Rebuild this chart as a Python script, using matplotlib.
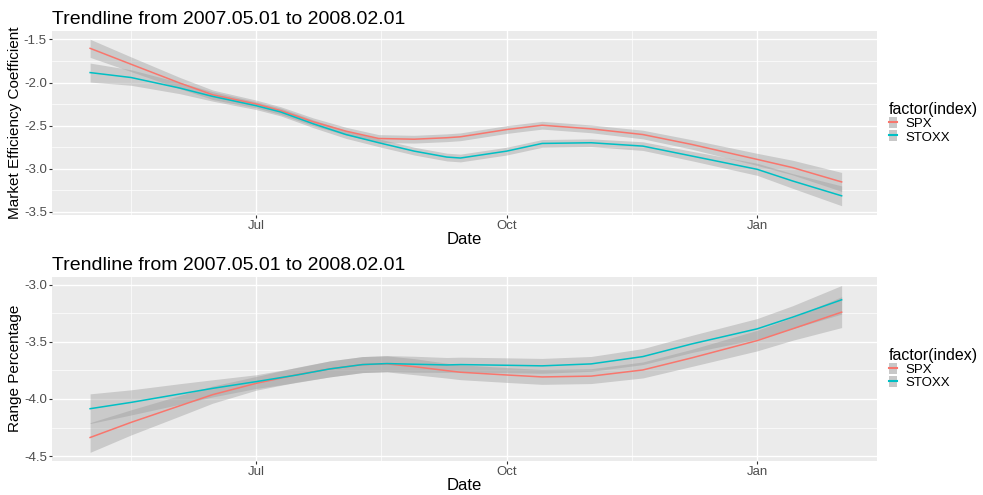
import datetime as dt
import numpy as np
import matplotlib
matplotlib.use("Agg")
import matplotlib.pyplot as plt
import matplotlib.dates as mdates
from matplotlib.lines import Line2D
from matplotlib.patches import Patch
from matplotlib.legend_handler import HandlerTuple

plt.rcParams['font.family'] = ['Liberation Sans', 'DejaVu Sans']

start = dt.date(2007, 5, 1)

mec_days = [0, 15, 33, 45, 61, 70, 82, 94, 106, 119, 131, 136, 153, 166, 184, 203, 221, 245, 258, 276]
rp_days = [0, 15, 33, 45, 61, 76, 88, 100, 109, 119, 131, 136, 153, 166, 184, 203, 221, 245, 258, 276]

# Market efficiency coefficient
mec_spx = [-1.604, -1.788, -2.007, -2.142, -2.249, -2.326, -2.456, -2.564, -2.649, -2.657,
           -2.640, -2.629, -2.545, -2.495, -2.537, -2.603, -2.718, -2.891, -2.986, -3.152]
mec_stoxx = [-1.885, -1.942, -2.065, -2.161, -2.269, -2.342, -2.479, -2.603, -2.698, -2.795,
             -2.864, -2.875, -2.795, -2.706, -2.698, -2.737, -2.852, -3.006, -3.141, -3.313]
mec_spx_se = [0.105, 0.085, 0.065, 0.055, 0.045, 0.045, 0.045, 0.045, 0.045, 0.045,
              0.045, 0.045, 0.045, 0.045, 0.045, 0.05, 0.055, 0.07, 0.085, 0.11]
mec_stoxx_se = [0.11, 0.09, 0.065, 0.055, 0.045, 0.045, 0.045, 0.045, 0.045, 0.045,
                0.045, 0.045, 0.045, 0.045, 0.045, 0.05, 0.055, 0.07, 0.085, 0.115]

# Range percentage
rp_spx = [-4.337, -4.205, -4.059, -3.962, -3.863, -3.787, -3.737, -3.699, -3.693, -3.717,
          -3.752, -3.766, -3.790, -3.807, -3.800, -3.746, -3.640, -3.489, -3.386, -3.240]
rp_stoxx = [-4.085, -4.030, -3.956, -3.907, -3.848, -3.790, -3.737, -3.699, -3.690, -3.696,
            -3.702, -3.699, -3.705, -3.710, -3.693, -3.629, -3.518, -3.386, -3.284, -3.132]
rp_spx_se = [0.13, 0.11, 0.09, 0.075, 0.06, 0.065, 0.07, 0.07, 0.07, 0.07,
             0.065, 0.065, 0.065, 0.065, 0.065, 0.07, 0.075, 0.09, 0.10, 0.135]
rp_stoxx_se = [0.13, 0.11, 0.09, 0.075, 0.06, 0.065, 0.07, 0.07, 0.07, 0.07,
               0.065, 0.065, 0.065, 0.065, 0.065, 0.07, 0.075, 0.09, 0.10, 0.125]

names = ['SPX', 'STOXX']
colors = ['#F8766D', '#00BFC4']
title = 'Trendline from 2007.05.01 to 2008.02.01'

fig = plt.figure(figsize=(9.83, 4.95), dpi=100)
ax1 = fig.add_axes([0.0529, 0.5657, 0.8393, 0.3717])
ax2 = fig.add_axes([0.0529, 0.0693, 0.8393, 0.3717])


def draw(ax, days, series, ses, ylabel, ylim, yticks, yminor):
    dates = [start + dt.timedelta(days=d) for d in days]
    ax.set_facecolor('#EBEBEB')
    for y, se, c in zip(series, ses, colors):
        y = np.array(y)
        se = np.array(se)
        ax.fill_between(dates, y - se, y + se, color='#999999', alpha=0.4, lw=0, zorder=2)
        ax.plot(dates, y, color=c, lw=1.1, zorder=3, solid_joinstyle='round')
    ax.set_xlim(dt.date(2007, 4, 17), dt.date(2008, 2, 14))
    ax.set_ylim(*ylim)
    ax.xaxis.set_major_locator(mdates.MonthLocator(bymonth=[1, 7, 10]))
    ax.xaxis.set_major_formatter(mdates.DateFormatter('%b'))
    ax.set_xticks([mdates.date2num(d) for d in [dt.date(2007, 5, 16), dt.date(2007, 8, 16),
                                                dt.date(2007, 11, 16)]], minor=True)
    ax.set_yticks(yticks)
    ax.set_yticklabels(['%.1f' % v for v in yticks])
    ax.set_yticks(yminor, minor=True)
    ax.grid(which='major', color='white', lw=1.0, zorder=0)
    ax.grid(which='minor', color='white', lw=0.5, zorder=0)
    ax.set_axisbelow(True)
    for s in ax.spines.values():
        s.set_visible(False)
    ax.tick_params(which='major', length=2.5, color='#333333', labelsize=9.5, labelcolor='#4D4D4D', pad=1.2)
    ax.tick_params(which='minor', length=0)
    ax.set_xlabel('Date', fontsize=12, labelpad=0)
    ax.set_ylabel(ylabel, fontsize=11)
    ax.yaxis.set_label_coords(-0.036, 0.5)
    ax.set_title(title, fontsize=14, loc='left', pad=5)
    handles = [(Patch(facecolor='#C8C8C8', edgecolor='none'), Line2D([], [], color=c, lw=1.5))
               for c in colors]
    leg = ax.legend(handles, names, title='factor(index)', loc='center left',
                    bbox_to_anchor=(1.0, 0.5), frameon=False, fontsize=9.5,
                    title_fontsize=11.5, handlelength=0.65, handleheight=0.9,
                    handletextpad=0.6, labelspacing=0.0, borderaxespad=0.5,
                    handler_map={tuple: HandlerTuple(ndivide=1, pad=0)})
    leg._legend_box.align = 'left'


draw(ax1, mec_days, [mec_spx, mec_stoxx], [mec_spx_se, mec_stoxx_se], 'Market Efficiency Coefficient',
     (-3.535, -1.403), [-1.5, -2.0, -2.5, -3.0, -3.5], [-1.75, -2.25, -2.75, -3.25])
draw(ax2, rp_days, [rp_spx, rp_stoxx], [rp_spx_se, rp_stoxx_se], 'Range Percentage',
     (-4.54, -2.93), [-3.0, -3.5, -4.0, -4.5], [-3.25, -3.75, -4.25])

fig.savefig('out.png', dpi=100)
